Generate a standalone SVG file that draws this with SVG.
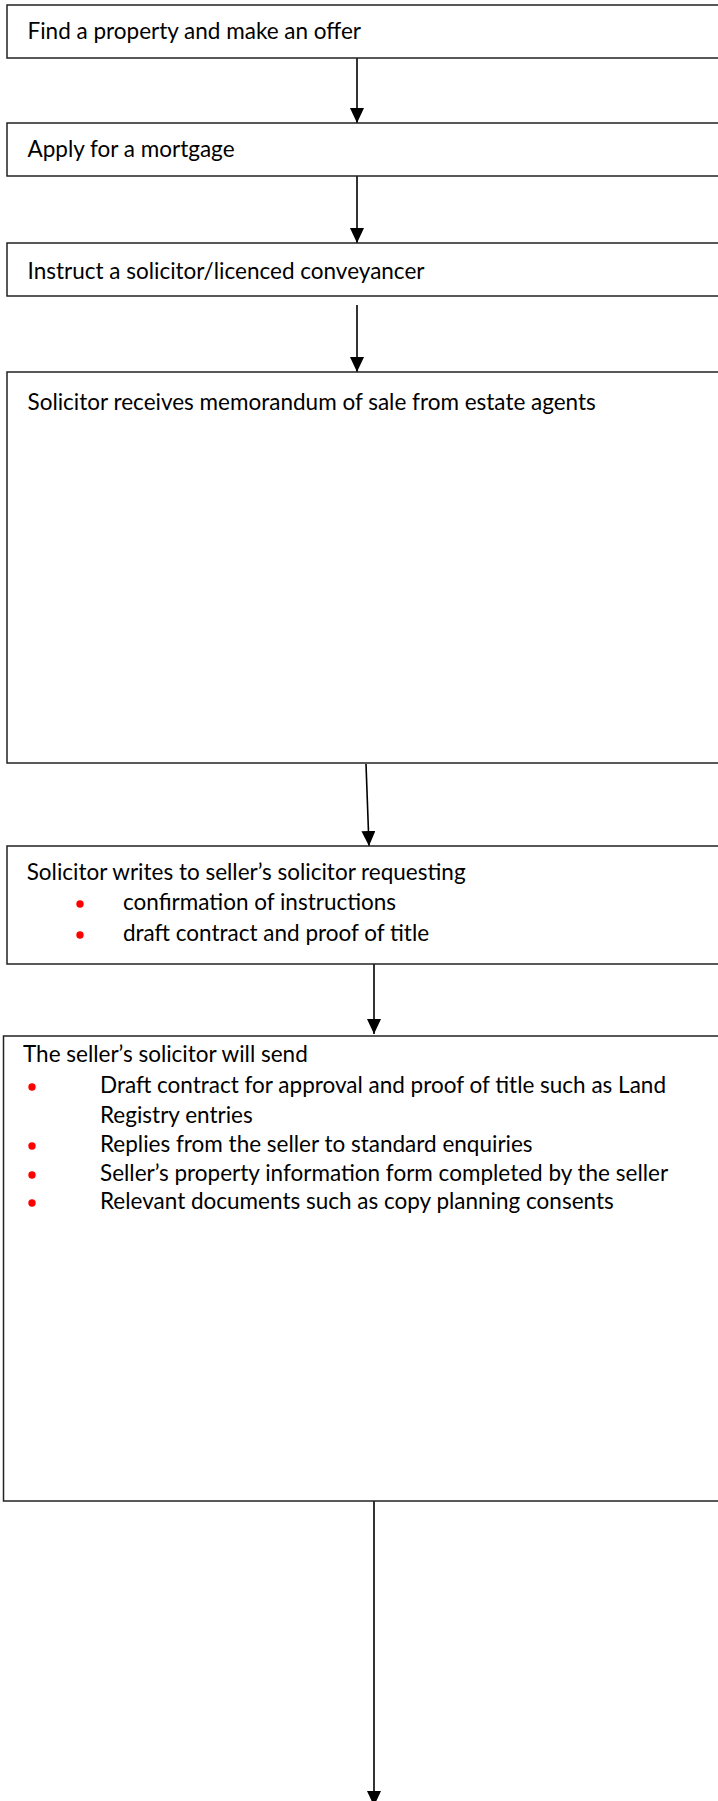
<svg xmlns="http://www.w3.org/2000/svg" width="718" height="1801" viewBox="0 0 718 1801">
<style>
.box{fill:#fff;stroke:#222;stroke-width:1.5}
.t{font-family:Lato,"Open Sans","Liberation Sans",sans-serif;font-size:22.5px;fill:#000}
.b{fill:#f00}
.c{stroke:#000;stroke-width:1.6;fill:none;marker-end:url(#ah)}
</style>
<defs>
<marker id="ah" markerUnits="userSpaceOnUse" markerWidth="16" markerHeight="15" refX="15" refY="7" orient="auto" viewBox="0 0 16 15">
<path d="M0,0 L15,7 L0,14 z" fill="#000"/>
</marker>
</defs>
<rect width="718" height="1801" fill="#fff"/>
<g id="connectors">
<line class="c" x1="357" y1="58" x2="357" y2="123"/>
<line class="c" x1="357" y1="176" x2="357" y2="243"/>
<line class="c" x1="357" y1="305" x2="357" y2="372"/>
<line class="c" x1="366" y1="764" x2="369" y2="846"/>
<line class="c" x1="374" y1="964" x2="374" y2="1034"/>
<line class="c" x1="374" y1="1497" x2="374" y2="1806"/>
</g>
<g id="n1">
<rect class="box" x="7" y="5" width="730" height="53"/>
<text class="t" x="27.5" y="39">Find a property and make an offer</text>
</g>
<g id="n2">
<rect class="box" x="7" y="123" width="730" height="53"/>
<text class="t" x="27.5" y="157">Apply for a mortgage</text>
</g>
<g id="n3">
<rect class="box" x="7" y="243" width="730" height="53"/>
<text class="t" x="27.5" y="279">Instruct a solicitor/licenced conveyancer</text>
</g>
<g id="n4">
<rect class="box" x="7" y="372" width="730" height="391"/>
<text class="t" x="27.5" y="410">Solicitor receives memorandum of sale from estate agents</text>
</g>
<g id="n5">
<rect class="box" x="7" y="846" width="730" height="118"/>
<text class="t" x="26.7" y="880">Solicitor writes to seller’s solicitor requesting</text>
<circle class="b" cx="80" cy="904" r="3.7"/>
<text class="t" x="123" y="910">confirmation of instructions</text>
<circle class="b" cx="80" cy="935" r="3.7"/>
<text class="t" x="123" y="941">draft contract and proof of title</text>
</g>
<g id="n6">
<rect class="box" x="3.5" y="1036" width="730" height="465"/>
<text class="t" x="23" y="1062">The seller’s solicitor will send</text>
<circle class="b" cx="32" cy="1087" r="3.7"/>
<text class="t" x="100" y="1093">Draft contract for approval and proof of title such as Land</text>
<text class="t" x="100" y="1123">Registry entries</text>
<circle class="b" cx="32" cy="1146" r="3.7"/>
<text class="t" x="100" y="1152">Replies from the seller to standard enquiries</text>
<circle class="b" cx="32" cy="1175" r="3.7"/>
<text class="t" x="100" y="1181">Seller’s property information form completed by the seller</text>
<circle class="b" cx="32" cy="1203" r="3.7"/>
<text class="t" x="100" y="1209">Relevant documents such as copy planning consents</text>
</g>
</svg>
